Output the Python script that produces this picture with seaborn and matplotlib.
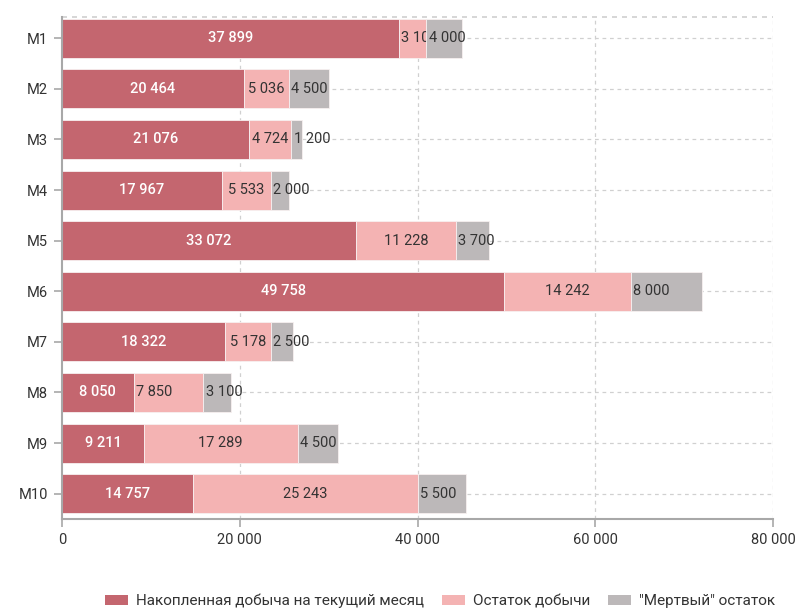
import matplotlib
matplotlib.use("Agg")
import matplotlib.pyplot as plt
import seaborn as sns
import pandas as pd
import numpy as np
from matplotlib.patches import Patch

categories = ["M1", "M2", "M3", "M4", "M5", "M6", "M7", "M8", "M9", "M10"]
accumulated = [37899, 20464, 21076, 17967, 33072, 49758, 18322, 8050, 9211, 14757]
remaining = [3101, 5036, 4724, 5533, 11228, 14242, 5178, 7850, 17289, 25243]
dead = [4000, 4500, 1200, 2000, 3700, 8000, 2500, 3100, 4500, 5500]
series_names = ["Накопленная добыча на текущий месяц", "Остаток добычи", "\"Мертвый\" остаток"]
x_ticks = [0, 20000, 40000, 60000, 80000]

colors = ["#c4666f", "#f4b3b3", "#bcb8b9"]
text_colors = ["white", "#333333", "#333333"]
# label alignment per series (pink M8 label is left-aligned in the reference)
pink_align = ["left", "center", "center", "center", "center", "center", "center", "left", "center", "center"]

sns.set_theme(style="white")
plt.rcParams["font.family"] = ["Roboto", "DejaVu Sans"]

fig = plt.figure(figsize=(8, 6.09), dpi=100)
ax = fig.add_axes([62 / 800, 1 - 519 / 609, (773 - 62) / 800, (519 - 17) / 609])

df = pd.DataFrame({"cat": categories, "acc": accumulated, "rem": remaining, "dead": dead})
acc = np.array(accumulated)
rem = np.array(remaining)
dd = np.array(dead)
lefts = [np.zeros(len(acc)), acc, acc + rem]
vals = [acc, rem, dd]
cols = ["acc", "rem", "dead"]

for i in range(3):
    sns.barplot(data=df, y="cat", x=cols[i], orient="h", order=categories,
                color=colors[i], left=lefts[i], width=0.77, ax=ax,
                edgecolor="#f7f0f0", linewidth=0.6, zorder=2 + 2 * i, saturation=1)
    for j, v in enumerate(vals[i]):
        label = f"{v:,}".replace(",", " ")
        start = lefts[i][j]
        if i == 0:
            ha, xx = "center", start + v / 2
        elif i == 1:
            ha = pink_align[j]
            xx = start + v / 2 if ha == "center" else start + 250
        else:
            ha, xx = "left", start + 250
        ax.text(xx, j, label, ha=ha, va="center", color=text_colors[i],
                fontsize=10.5, zorder=3 + 2 * i,
                fontweight="medium" if i == 0 else "normal")

ax.set_xlim(0, 80000)
ax.set_ylim(9.5, -0.42)
ax.set_xticks(x_ticks)
ax.set_xticklabels([f"{t:,}".replace(",", " ") for t in x_ticks])
ax.set_xlabel("")
ax.set_ylabel("")

# grid
for t in x_ticks[1:]:
    ax.axvline(t, color="#d0d0d0", linestyle=(0, (3, 3)), linewidth=0.9, zorder=0)
for j in range(len(categories)):
    ax.axhline(j, color="#d0d0d0", linestyle=(0, (3, 3)), linewidth=0.9, zorder=0)
ax.axhline(-0.42, color="#d0d0d0", linestyle=(0, (3, 3)), linewidth=1.2, zorder=0, clip_on=False)

for s in ["top", "right"]:
    ax.spines[s].set_visible(False)
for s in ["left", "bottom"]:
    ax.spines[s].set_color("#a8a8a8")
    ax.spines[s].set_linewidth(1.5)
    ax.spines[s].set_zorder(10)

ax.tick_params(axis="both", which="both", length=6, width=1.2, color="#a8a8a8",
               labelsize=10.5, labelcolor="#333333", bottom=True, left=True, pad=4)

handles = [Patch(facecolor=c, edgecolor="none") for c in colors]
fig.legend(handles, series_names, loc="center", bbox_to_anchor=(440 / 800, 1 - 601 / 609),
           ncol=3, frameon=False, fontsize=11, handlelength=1.5, handleheight=0.6,
           columnspacing=1.2, handletextpad=0.5, labelcolor="#333333")

fig.savefig("out.png", dpi=100)
